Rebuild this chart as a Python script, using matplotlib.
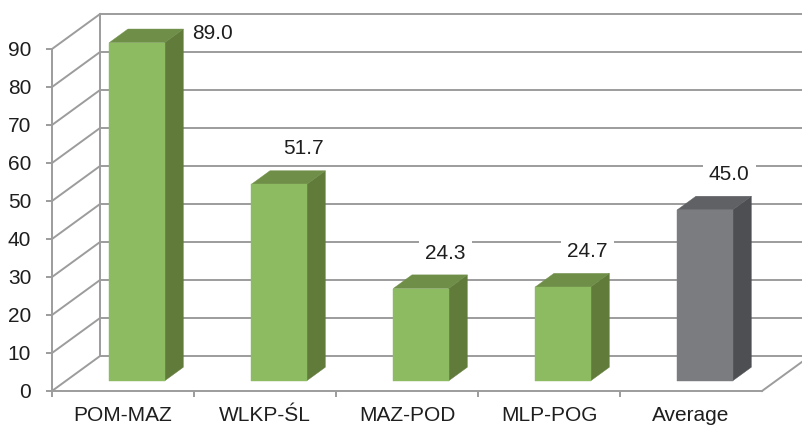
import matplotlib.pyplot as plt
from matplotlib.patches import Polygon

plt.rcParams['font.family'] = ['Liberation Sans', 'DejaVu Sans']

categories = ["POM-MAZ", "WLKP-ŚL", "MAZ-POD", "MLP-POG", "Average"]
values = [89.0, 51.7, 24.3, 24.7, 45.0]
is_average = [False, False, False, False, True]
y_ticks = list(range(0, 100, 10))

# colours: front / side / top
GREEN = ("#8DBB62", "#617B3B", "#6F8E48")
GREY = ("#7B7C80", "#4E4F53", "#606165")
GRID = "#9C9C9C"
TEXT = "#1E1E1E"
LW = 1.4

# oblique "3D" offset for full depth (category units, value units)
SX, SY = 0.338, 9.2
D0, D1 = 0.29, 0.68       # depth of bar front / back
BAR_W = 0.39


def proj(x, y, d):
    return (x + SX * d, y + SY * d)


fig = plt.figure(figsize=(8.03, 4.26), dpi=100)
ax = fig.add_axes([52 / 803, 35 / 426, 710 / 803, 342 / 426])
ax.set_xlim(0, len(categories))
ax.set_ylim(0, 90)

# back wall gridlines + left wall diagonals
n = len(categories)
for t in y_ticks:
    bx0, by = proj(0, t, 1)
    bx1, _ = proj(n, t, 1)
    ax.plot([bx0, bx1], [by, by], color=GRID, lw=LW, clip_on=False, zorder=1)
    ax.plot([0, bx0], [t, by], color=GRID, lw=LW, clip_on=False, zorder=1)
# back wall left edge and floor right edge
ax.plot([proj(0, 0, 1)[0]] * 2, [proj(0, 0, 1)[1], proj(0, 90, 1)[1]],
        color=GRID, lw=LW, clip_on=False, zorder=1)
ax.plot([n, proj(n, 0, 1)[0]], [0, proj(n, 0, 1)[1]],
        color=GRID, lw=LW, clip_on=False, zorder=1)

# bars
for i, v in enumerate(values):
    front, side, top = GREY if is_average[i] else GREEN
    c = i + 0.5
    x0, x1 = c - BAR_W / 2, c + BAR_W / 2
    face = [proj(x0, 0, D0), proj(x1, 0, D0), proj(x1, v, D0), proj(x0, v, D0)]
    right = [proj(x1, 0, D0), proj(x1, 0, D1), proj(x1, v, D1), proj(x1, v, D0)]
    cap = [proj(x0, v, D0), proj(x1, v, D0), proj(x1, v, D1), proj(x0, v, D1)]
    for pts, col in ((right, side), (cap, top), (face, front)):
        ax.add_patch(Polygon(pts, closed=True, facecolor=col, edgecolor=col,
                             lw=0.3, clip_on=False, zorder=3))

    # value labels, tall bars get the label beside the bar
    ly = v + 12
    lx = c + 0.27
    if ly > 94:
        ly, lx = 94, c + 0.63
    ax.text(lx, ly, f"{v:.1f}", ha='center', va='center', fontsize=15,
            color=TEXT, zorder=5, clip_on=False,
            bbox=dict(boxstyle='square,pad=0.3', fc='white', ec='none'))

# axes styling
for s in ('top', 'right'):
    ax.spines[s].set_visible(False)
for s in ('left', 'bottom'):
    ax.spines[s].set_color(GRID)
    ax.spines[s].set_linewidth(LW)
    ax.spines[s].set_zorder(2)

ax.set_yticks(y_ticks)
ax.tick_params(axis='y', direction='out', length=4, width=LW, color=GRID,
               labelsize=15, labelcolor=TEXT, pad=11)
ax.set_xticks([i + 0.5 for i in range(n)])
ax.set_xticklabels(categories)
ax.set_xticks(range(0, n), minor=True)
ax.tick_params(axis='x', which='major', length=0, labelsize=15,
               labelcolor=TEXT, pad=10.5)
ax.tick_params(axis='x', which='minor', direction='out', length=4, width=LW,
               color=GRID)
ax.patch.set_visible(False)

plt.savefig("out.png", dpi=100)
plt.close()
